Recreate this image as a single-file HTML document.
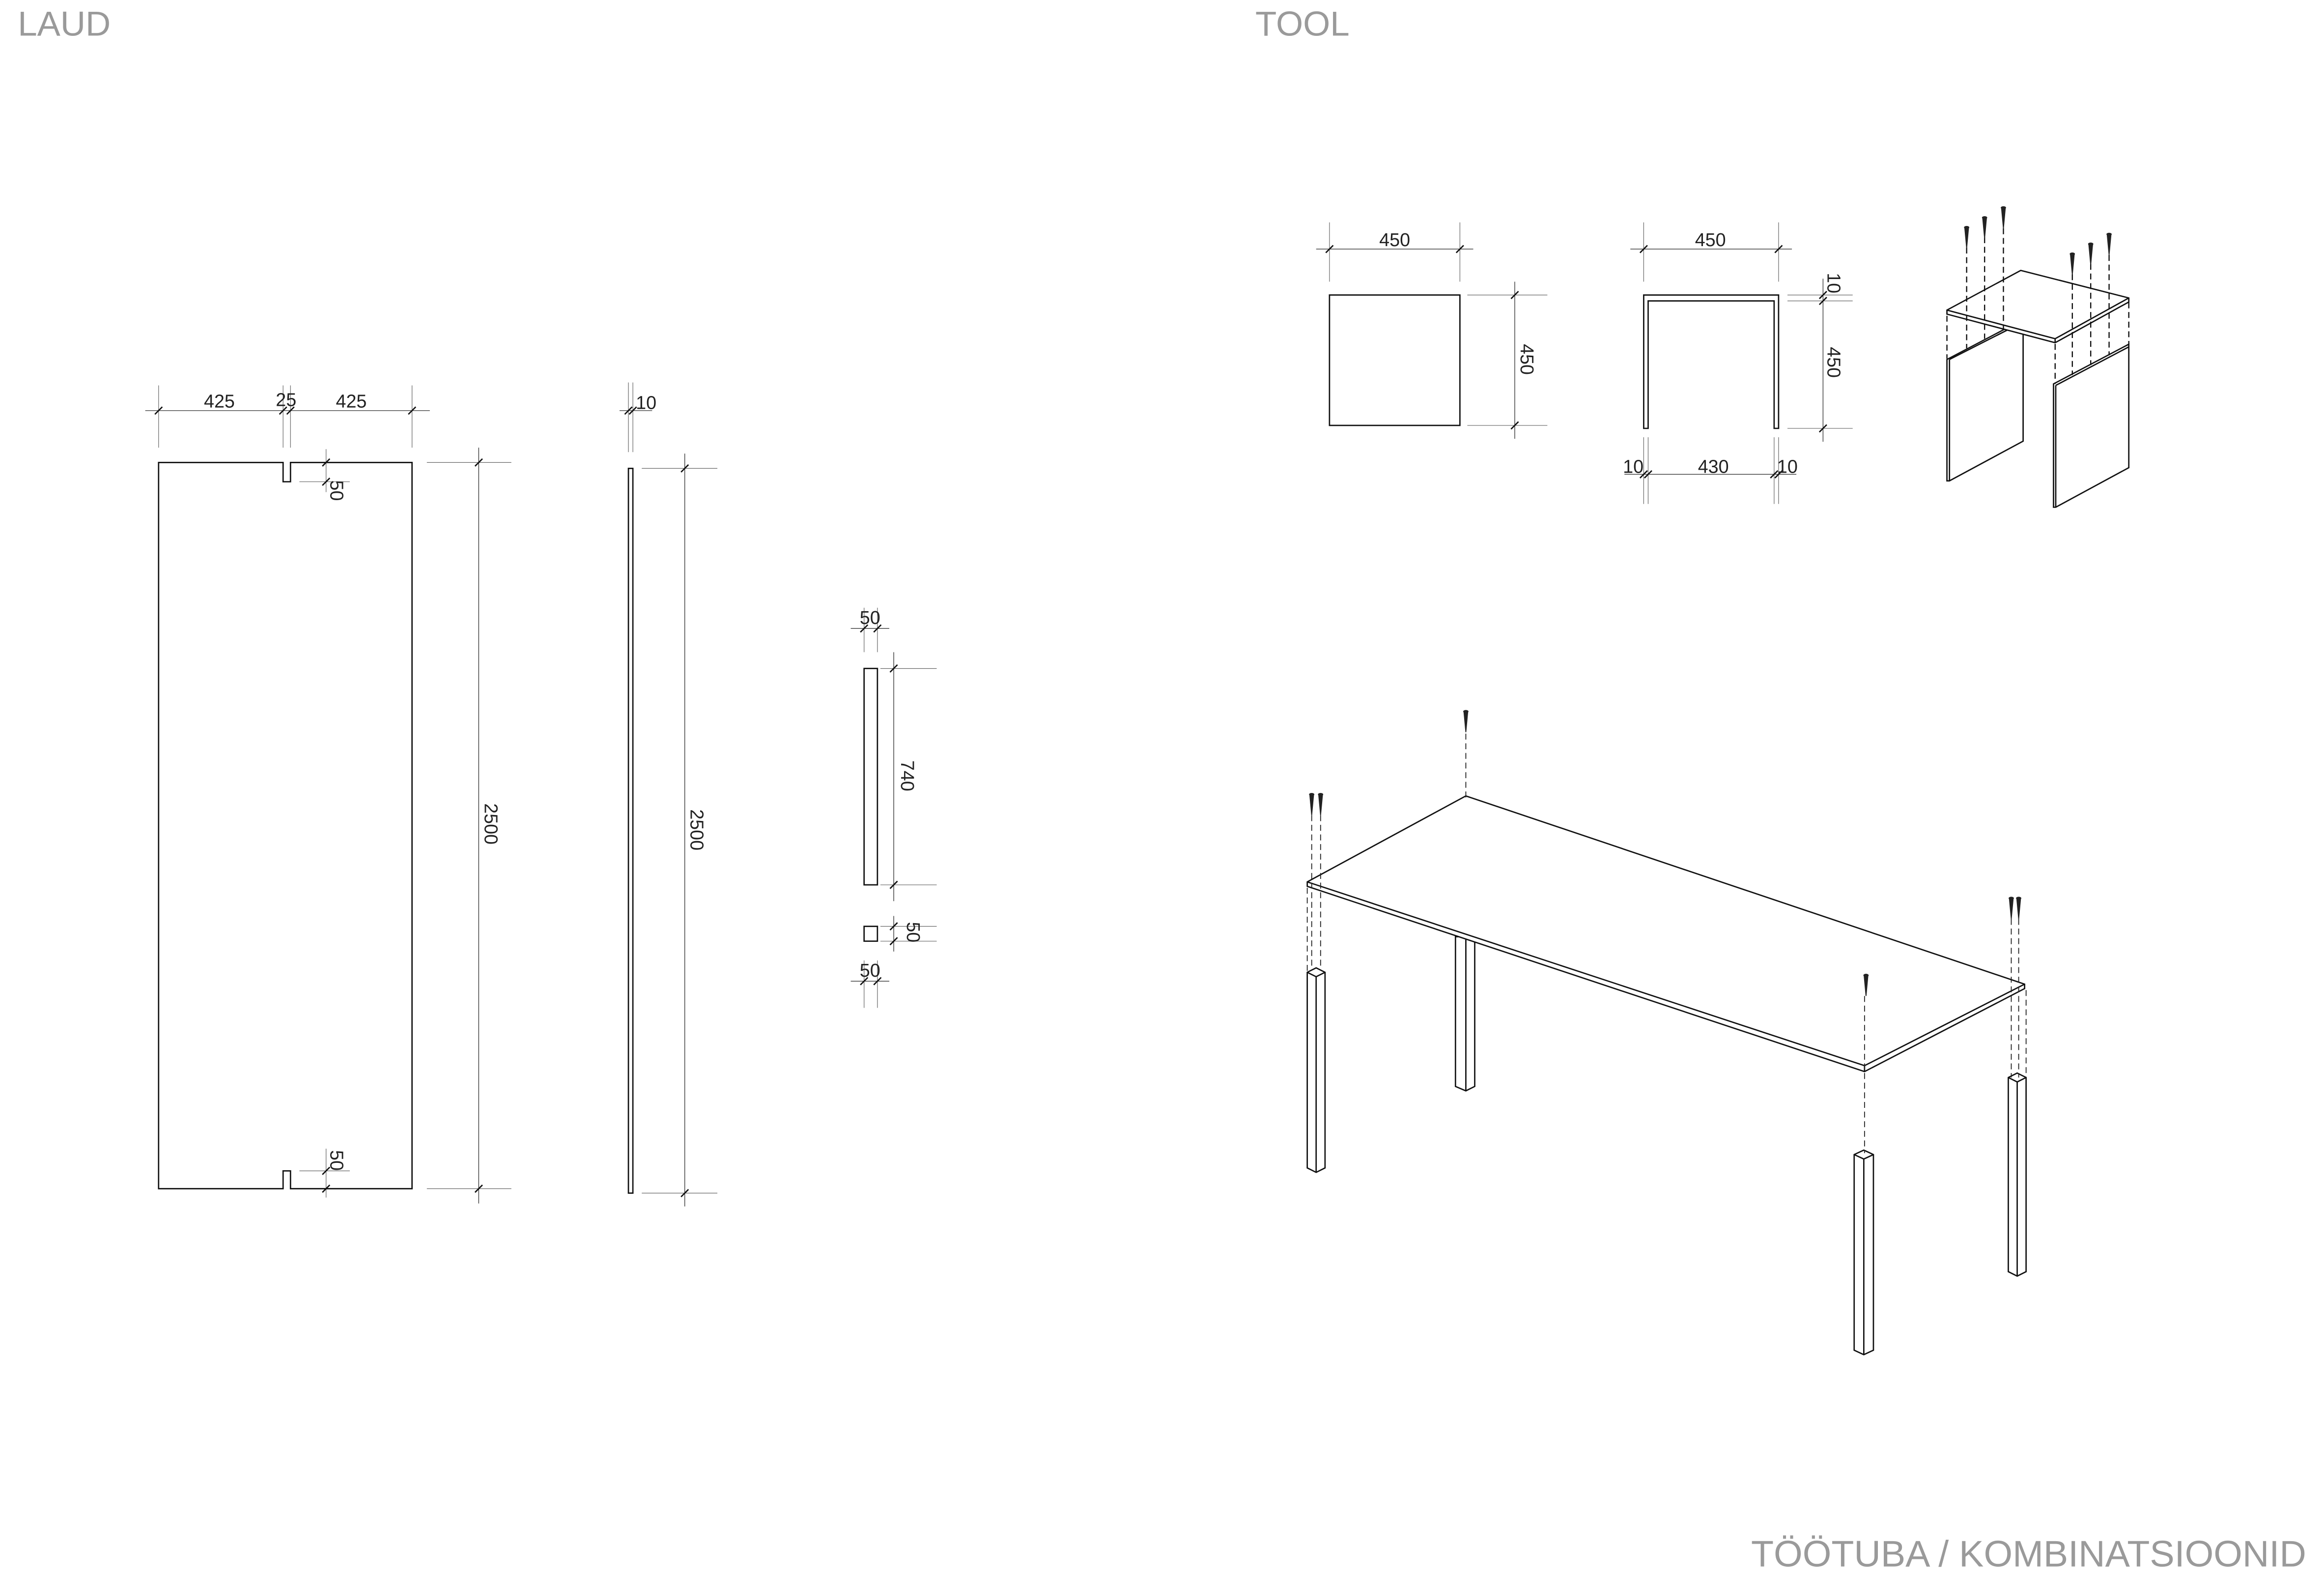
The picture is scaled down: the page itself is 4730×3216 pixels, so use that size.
<!DOCTYPE html>
<html><head><meta charset="utf-8"><style>
html,body{margin:0;padding:0;background:#fff;}
svg{display:block;}
text{font-family:"Liberation Sans",sans-serif;fill:#222;}
.o{stroke:#111;stroke-width:0.9;fill:none;}
.of{stroke:#111;stroke-width:0.9;fill:#fff;}
.d{stroke:#333;stroke-width:0.45;fill:none;}
.e{stroke:#666;stroke-width:0.4;fill:none;}
.dash{stroke:#222;stroke-width:0.6;stroke-dasharray:4,2.5;fill:none;}
.dash2{stroke:#111;stroke-width:0.8;stroke-dasharray:4,2.5;fill:none;}
.dt{font-size:12.5px;}
</style></head><body>
<svg width="4730" height="3216" viewBox="0 0 1568 1066" xmlns="http://www.w3.org/2000/svg">
<defs>
<g id="tk"><line x1="-2.5" y1="2.5" x2="2.5" y2="-2.5" stroke="#111" stroke-width="0.9"/></g>
<g id="sc"><path d="M-1.6,0 L1.6,0 L0.3,14 L-0.3,14 Z" fill="#222"/><ellipse cx="0" cy="0" rx="1.8" ry="1" fill="#222"/></g>
</defs>
<text x="12" y="24" font-size="23.5" style="fill:#9a9a9a">LAUD</text>
<text x="847" y="24" font-size="23.5" style="fill:#9a9a9a">TOOL</text>
<text x="1556" y="1057" font-size="25" text-anchor="end" style="fill:#9a9a9a">TÖÖTUBA / KOMBINATSIOONID</text>

<!-- LAUD panel -->
<path class="o" d="M107,312 H191 V325 H196 V312 H278 V802 H196 V790 H191 V802 H107 Z"/>
<line class="d" x1="98" y1="277" x2="290" y2="277"/>
<line class="e" x1="107" y1="260" x2="107" y2="302"/>
<line class="e" x1="191" y1="260" x2="191" y2="302"/>
<line class="e" x1="196" y1="260" x2="196" y2="302"/>
<line class="e" x1="278" y1="260" x2="278" y2="302"/>
<use href="#tk" x="107" y="277"/><use href="#tk" x="191" y="277"/><use href="#tk" x="196" y="277"/><use href="#tk" x="278" y="277"/>
<text class="dt" x="148" y="275" text-anchor="middle">425</text>
<text class="dt" x="193" y="274" text-anchor="middle">25</text>
<text class="dt" x="237" y="275" text-anchor="middle">425</text>
<line class="e" x1="220" y1="303" x2="220" y2="332"/>
<line class="e" x1="202" y1="325" x2="236" y2="325"/>
<use href="#tk" x="220" y="312"/><use href="#tk" x="220" y="325"/>
<text class="dt" transform="translate(223,324) rotate(90)">50</text>
<line class="e" x1="220" y1="775" x2="220" y2="808"/>
<line class="e" x1="202" y1="790" x2="236" y2="790"/>
<use href="#tk" x="220" y="790"/><use href="#tk" x="220" y="802"/>
<text class="dt" transform="translate(223,776) rotate(90)">50</text>
<line class="d" x1="323" y1="302" x2="323" y2="812"/>
<line class="e" x1="288" y1="312" x2="345" y2="312"/>
<line class="e" x1="288" y1="802" x2="345" y2="802"/>
<use href="#tk" x="323" y="312"/><use href="#tk" x="323" y="802"/>
<text class="dt" transform="translate(327,542) rotate(90)">2500</text>

<!-- side view -->
<rect class="o" x="424" y="316" width="3" height="489"/>
<line class="d" x1="418" y1="277" x2="440" y2="277"/>
<line class="e" x1="424" y1="258" x2="424" y2="305"/>
<line class="e" x1="427" y1="258" x2="427" y2="305"/>
<use href="#tk" x="424" y="277"/><use href="#tk" x="427" y="277"/>
<text class="dt" x="429" y="276">10</text>
<line class="d" x1="462" y1="306" x2="462" y2="814"/>
<line class="e" x1="433" y1="316" x2="484" y2="316"/>
<line class="e" x1="433" y1="805" x2="484" y2="805"/>
<use href="#tk" x="462" y="316"/><use href="#tk" x="462" y="805"/>
<text class="dt" transform="translate(466,546) rotate(90)">2500</text>

<!-- leg -->
<rect class="o" x="583" y="451" width="9" height="146"/>
<line class="d" x1="574" y1="424" x2="600" y2="424"/>
<line class="e" x1="583" y1="410" x2="583" y2="440"/>
<line class="e" x1="592" y1="410" x2="592" y2="440"/>
<use href="#tk" x="583" y="424"/><use href="#tk" x="592" y="424"/>
<text class="dt" x="587" y="421" text-anchor="middle">50</text>
<line class="d" x1="603" y1="440" x2="603" y2="608"/>
<line class="e" x1="594" y1="451" x2="632" y2="451"/>
<line class="e" x1="594" y1="597" x2="632" y2="597"/>
<use href="#tk" x="603" y="451"/><use href="#tk" x="603" y="597"/>
<text class="dt" transform="translate(608,513) rotate(90)">740</text>
<rect class="o" x="583" y="625" width="9" height="10"/>
<line class="d" x1="603" y1="618" x2="603" y2="642"/>
<line class="e" x1="594" y1="625" x2="632" y2="625"/>
<line class="e" x1="594" y1="635" x2="632" y2="635"/>
<use href="#tk" x="603" y="625"/><use href="#tk" x="603" y="635"/>
<text class="dt" transform="translate(612,622) rotate(90)">50</text>
<line class="d" x1="574" y1="662" x2="600" y2="662"/>
<line class="e" x1="583" y1="648" x2="583" y2="680"/>
<line class="e" x1="592" y1="648" x2="592" y2="680"/>
<use href="#tk" x="583" y="662"/><use href="#tk" x="592" y="662"/>
<text class="dt" x="587" y="659" text-anchor="middle">50</text>

<!-- TOOL top view -->
<rect class="o" x="897" y="199" width="88" height="88"/>
<line class="d" x1="888" y1="168" x2="994" y2="168"/>
<line class="e" x1="897" y1="150" x2="897" y2="190"/>
<line class="e" x1="985" y1="150" x2="985" y2="190"/>
<use href="#tk" x="897" y="168"/><use href="#tk" x="985" y="168"/>
<text class="dt" x="941" y="166" text-anchor="middle">450</text>
<line class="d" x1="1022" y1="190" x2="1022" y2="296"/>
<line class="e" x1="990" y1="199" x2="1044" y2="199"/>
<line class="e" x1="990" y1="287" x2="1044" y2="287"/>
<use href="#tk" x="1022" y="199"/><use href="#tk" x="1022" y="287"/>
<text class="dt" transform="translate(1026,232) rotate(90)">450</text>

<!-- front view -->
<path class="o" d="M1109,289 V199 H1200 V289 H1197 V203 H1112 V289 Z"/>
<line class="d" x1="1100" y1="168" x2="1209" y2="168"/>
<line class="e" x1="1109" y1="150" x2="1109" y2="190"/>
<line class="e" x1="1200" y1="150" x2="1200" y2="190"/>
<use href="#tk" x="1109" y="168"/><use href="#tk" x="1200" y="168"/>
<text class="dt" x="1154" y="166" text-anchor="middle">450</text>
<line class="d" x1="1230" y1="188" x2="1230" y2="298"/>
<line class="e" x1="1206" y1="199" x2="1250" y2="199"/>
<line class="e" x1="1206" y1="203" x2="1250" y2="203"/>
<line class="e" x1="1206" y1="289" x2="1250" y2="289"/>
<use href="#tk" x="1230" y="199"/><use href="#tk" x="1230" y="203"/><use href="#tk" x="1230" y="289"/>
<text class="dt" transform="translate(1233,184) rotate(90)">10</text>
<text class="dt" transform="translate(1233,234) rotate(90)">450</text>
<line class="d" x1="1096" y1="320" x2="1212" y2="320"/>
<line class="e" x1="1109" y1="295" x2="1109" y2="340"/>
<line class="e" x1="1112" y1="295" x2="1112" y2="340"/>
<line class="e" x1="1197" y1="295" x2="1197" y2="340"/>
<line class="e" x1="1200" y1="295" x2="1200" y2="340"/>
<use href="#tk" x="1109" y="320"/><use href="#tk" x="1112" y="320"/><use href="#tk" x="1197" y="320"/><use href="#tk" x="1200" y="320"/>
<text class="dt" x="1095" y="319">10</text>
<text class="dt" x="1156" y="319" text-anchor="middle">430</text>
<text class="dt" x="1199" y="319">10</text>

<!-- iso stool -->
<path class="of" d="M1313.6,242.5 L1365,215.5 L1365,297.6 L1315.3,324.4 L1313.6,324.4 Z"/>
<line class="o" x1="1315.3" y1="242.5" x2="1315.3" y2="324.4"/>
<line class="o" x1="1315.3" y1="242.5" x2="1365" y2="217.2"/>
<path class="of" d="M1385.5,259 L1436.3,232.2 L1436.3,315.5 L1387,342.2 L1385.5,342.2 Z"/>
<line class="o" x1="1387" y1="260" x2="1387" y2="342.2"/>
<line class="o" x1="1387" y1="260" x2="1436.3" y2="234"/>
<path class="of" d="M1313.6,209.2 L1363.4,182.4 L1436.3,201 L1436.3,203.7 L1386.6,231.2 L1313.6,211.9 Z"/>
<path class="o" d="M1313.6,209.2 L1386.6,228.5 L1436.3,201 M1386.6,228.5 V231.2"/>
<g class="dash2">
<line x1="1313.6" y1="213" x2="1313.6" y2="242"/>
<line x1="1386.6" y1="232" x2="1386.6" y2="259"/>
<line x1="1436.3" y1="204" x2="1436.3" y2="232"/>
<line x1="1326.9" y1="167" x2="1326.9" y2="235"/>
<line x1="1339" y1="160" x2="1339" y2="228.5"/>
<line x1="1351.7" y1="154" x2="1351.7" y2="222"/>
<line x1="1398.2" y1="185" x2="1398.2" y2="253"/>
<line x1="1410.6" y1="178" x2="1410.6" y2="246.3"/>
<line x1="1423" y1="172" x2="1423" y2="239.7"/>
</g>
<use href="#sc" x="1326.9" y="153.4"/><use href="#sc" x="1339" y="146.8"/><use href="#sc" x="1351.7" y="140.1"/>
<use href="#sc" x="1398.2" y="171.3"/><use href="#sc" x="1410.6" y="164.6"/><use href="#sc" x="1423" y="158"/>

<!-- big table legs -->
<g>
<path class="of" d="M982,632 H995 V733 L989,736 L982,733 Z"/><line class="o" x1="989" y1="634" x2="989" y2="736"/>
<path class="of" d="M882,656 L888,653 L894,656 V788 L888,791 L882,788 Z"/><line class="o" x1="888" y1="659" x2="888" y2="791"/><line class="o" x1="882" y1="656" x2="888" y2="659"/><line class="o" x1="894" y1="656" x2="888" y2="659"/>
<path class="of" d="M1251,779 L1257.5,776 L1264,779 V911 L1257.5,914 L1251,911 Z"/><line class="o" x1="1257.5" y1="782" x2="1257.5" y2="914"/><line class="o" x1="1251" y1="779" x2="1257.5" y2="782"/><line class="o" x1="1264" y1="779" x2="1257.5" y2="782"/>
<path class="of" d="M1355,727 L1361,724 L1367,727 V858 L1361,861 L1355,858 Z"/><line class="o" x1="1361" y1="730" x2="1361" y2="861"/><line class="o" x1="1355" y1="727" x2="1361" y2="730"/><line class="o" x1="1367" y1="727" x2="1361" y2="730"/>
</g>
<!-- table top -->
<path class="of" d="M882,595 L989,537 L1366,664 L1366,667 L1258,723 L882,598 Z"/>
<path class="o" d="M882,595 L1258,719 L1366,664 M1258,719 V723"/>
<g class="dash">
<line x1="882" y1="599" x2="882" y2="656"/>
<line x1="885" y1="550" x2="885" y2="654"/>
<line x1="891" y1="550" x2="891" y2="654"/>
<line x1="989" y1="495" x2="989" y2="540"/>
<line x1="1357" y1="620" x2="1357" y2="727"/>
<line x1="1362" y1="620" x2="1362" y2="727"/>
<line x1="1367" y1="668" x2="1367" y2="727"/>
<line x1="1258" y1="672" x2="1258" y2="778"/>
</g>
<use href="#sc" x="885" y="536"/><use href="#sc" x="891" y="536"/>
<use href="#sc" x="989" y="480"/>
<use href="#sc" x="1357" y="606"/><use href="#sc" x="1362" y="606"/>
<use href="#sc" x="1259" y="658"/>
</svg>
</body></html>
